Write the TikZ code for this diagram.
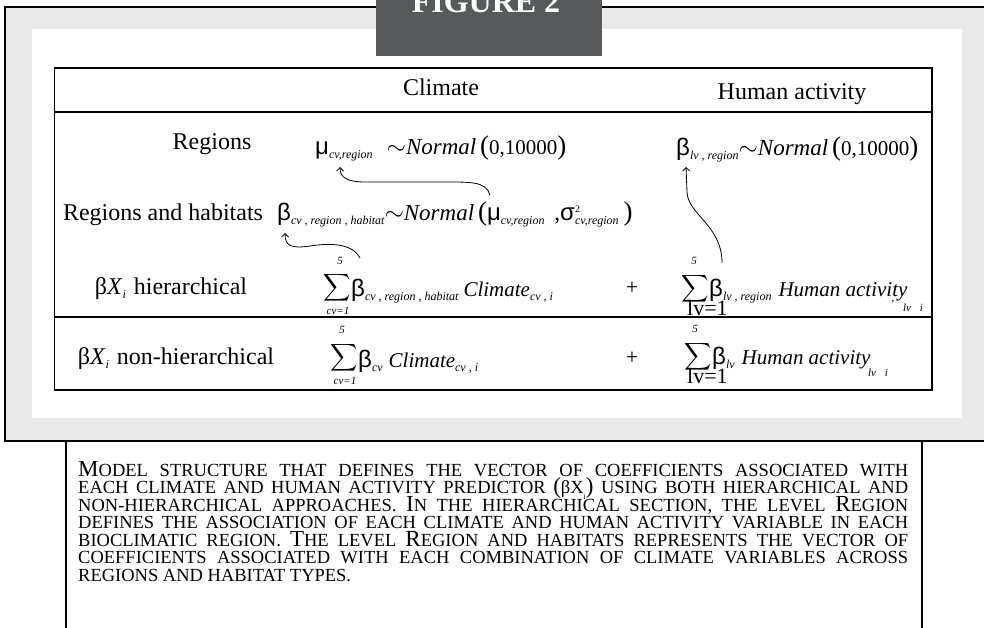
\documentclass[tikz,border=0pt]{standalone}
\usepackage{fontspec}
\setmainfont{Liberation Serif}
\newfontfamily\gkf{Liberation Sans}
\usetikzlibrary{arrows.meta}
\definecolor{bggray}{HTML}{E8E9E8}
\definecolor{figgray}{HTML}{58595B}
\newcommand\G[1]{{\fontsize{24}{24}\gkf #1}}
\newcommand\Sb[1]{\raisebox{-4pt}{\fontsize{12}{12}\selectfont\itshape #1}}
\newcommand\Pl[1]{{\fontsize{27}{27}\selectfont #1}}
\newcommand\Nm[1]{{\fontsize{21}{21}\selectfont #1}}
\newcommand\Tl{$\sim$}
\newcommand\BC[1]{{\fontsize{23}{17.5}\selectfont #1}}
\newcommand\capfont{\fontsize{18.5}{17.5}\selectfont\lineskiplimit=-20pt\lineskip=0pt}
\begin{document}
\begin{tikzpicture}[x=1pt,y={(0pt,-1pt)},
  txt/.style={inner sep=0pt,font=\fontsize{24}{24}\selectfont},
  frm/.style={inner sep=0pt,font=\fontsize{23}{23}\selectfont,anchor=base west},
  sumsign/.style={inner sep=0pt,font=\normalsize},
  lim/.style={inner sep=0pt,font=\fontsize{11}{11}\selectfont\itshape},
  biglim/.style={inner sep=0pt,font=\fontsize{22}{22}\selectfont,anchor=base west},
  link/.style={line width=0.8pt,-{Straight Barb[length=3.5pt,width=7pt]}},
  rule/.style={line width=1.4pt}]
\useasboundingbox (0,0) rectangle (984,628);
% outer frame
\fill[bggray] (5,7) rectangle (995,441);
\draw[line width=2.5pt] (995,7) -- (5,7) -- (5,441) -- (995,441);
\fill[white] (32,29) rectangle (962,418);
% figure tab
\fill[figgray] (376,-5) rectangle (602,56);
\node[inner sep=0pt,anchor=base,text=white,font=\fontsize{32}{32}\selectfont\bfseries] (fig) at (486,13) {FIGURE 2};
% table
\draw[rule] (54.5,68) rectangle (932,390);
\draw[rule] (54.5,112) -- (932,112);
\draw[rule] (54.5,317) -- (932,317);
\node[txt,anchor=base] (hc) at (441,96) {Climate};
\node[txt,anchor=base] (hh) at (792,100) {Human activity};
% row labels
\node[txt,anchor=base] (lr) at (212,150) {Regions};
\node[txt,anchor=base] (lrh) at (163,221) {Regions and habitats};
\node[txt,anchor=base] (lh) at (171,294) {β\textit{X}\Sb{i}\hspace{8pt}hierarchical};
\node[txt,anchor=base] (ln) at (176,364) {β\textit{X}\Sb{i}\hspace{8pt}non-hierarchical};
% row 1
\node[frm] (fa) at (315,155) {\G{μ}\Sb{cv,region}\hspace{14pt}\Tl\textit{Normal}\,\Pl{(}\Nm{0,10000}\Pl{)}};
\node[frm] (fb) at (676,156) {\G{β}\Sb{lv , region}\Tl\textit{Normal}\,\Pl{(}\Nm{0,10000}\Pl{)}};
% row 2
\node[frm] (fc) at (277,221) {\G{β}\Sb{cv , region , habitat}\Tl\textit{Normal}\,\Pl{(}\G{μ}\Sb{cv,region}\hspace{10pt},\G{σ}\rlap{\raisebox{8pt}{\fontsize{10}{10}\selectfont 2}}\Sb{cv,region}\hspace{5pt}\Pl{)}};
% row 3
\node[sumsign] (s1) at (337,288) {\scalebox{1.9}{$\displaystyle\sum$}};
\node[lim] (s1t) at (340,261) {5};
\node[lim] (s1b) at (338,311) {cv=1};
\node[frm,font=\fontsize{21}{21}\selectfont] (f3a) at (351,296) {\G{β}\Sb{cv , region , habitat}\hspace{5pt}\textit{Climate}\Sb{cv , i}};
\node[txt,anchor=center,font=\fontsize{22}{22}\selectfont] (p3) at (632,288) {+};
\node[sumsign] (s2) at (695,289) {\scalebox{1.9}{$\displaystyle\sum$}};
\node[lim] (s2t) at (694,261) {5};
\node[biglim] (s2b) at (687,315) {lv=1};
\node[frm,font=\fontsize{21}{21}\selectfont] (f3b) at (709,296) {\G{β}\Sb{lv , region}\hspace{7pt}\textit{Human activity}};
\node[lim] (f3c) at (893,302) {,};
\node[lim] (f3d) at (913,308) {lv\hspace{9pt}i};
% row 4
\node[sumsign] (s3) at (344,358) {\scalebox{1.9}{$\displaystyle\sum$}};
\node[lim] (s3t) at (342,330) {5};
\node[lim] (s3b) at (345,381) {cv=1};
\node[frm,font=\fontsize{21}{21}\selectfont] (f4a) at (358,367) {\G{β}\Sb{cv}\hspace{6pt}\textit{Climate}\Sb{cv , i}};
\node[txt,anchor=center,font=\fontsize{22}{22}\selectfont] (p4) at (632,358) {+};
\node[sumsign] (s4) at (698,357) {\scalebox{1.9}{$\displaystyle\sum$}};
\node[lim] (s4t) at (695,329) {5};
\node[biglim] (s4b) at (687,383) {lv=1};
\node[frm,font=\fontsize{21}{21}\selectfont] (f4b) at (712,364) {\G{β}\Sb{lv}\hspace{7pt}\textit{Human activity}};
\node[lim] (f4c) at (878,373) {lv\hspace{9pt}i};
% arrows
\coordinate (a1s) at (490,195);
\coordinate (a1e) at (340,167);
\coordinate (a2s) at (360,258);
\coordinate (a2e) at (285,233);
\coordinate (a3s) at (722,263);
\coordinate (a3e) at (686,167);
\draw[link] (a1s) .. controls (486,181) and (470,182) .. (440,182) -- (365,182) .. controls (348,182) and (340,178) .. (a1e);
\draw[link] (a2s) .. controls (352,243) and (330,243) .. (310,246) .. controls (290,249) and (285,245) .. (a2e);
\draw[link] (a3s) .. controls (722,225) and (688,215) .. (687,192) -- (a3e);
% caption box
\draw[line width=2pt] (66,441) -- (66,640);
\draw[line width=2pt] (922,441) -- (922,640);
\node[inner sep=0pt,anchor=base west,text width=830pt,align=justify,font=\capfont] (cap) at (78,476) {\BC{M}ODEL STRUCTURE THAT DEFINES THE VECTOR OF COEFFICIENTS ASSOCIATED WITH\linebreak
EACH CLIMATE AND HUMAN ACTIVITY PREDICTOR \BC{(}βX\raisebox{-6pt}{\fontsize{8}{8}\selectfont i}\BC{)} USING BOTH HIERARCHICAL AND\linebreak
NON-HIERARCHICAL APPROACHES. \BC{I}N THE HIERARCHICAL SECTION, THE LEVEL \BC{R}EGION\linebreak
DEFINES THE ASSOCIATION OF EACH CLIMATE AND HUMAN ACTIVITY VARIABLE IN EACH\linebreak
BIOCLIMATIC REGION. \BC{T}HE LEVEL \BC{R}EGION AND HABITATS REPRESENTS THE VECTOR OF\linebreak
COEFFICIENTS ASSOCIATED WITH EACH COMBINATION OF CLIMATE VARIABLES ACROSS\linebreak
REGIONS AND HABITAT TYPES.};
\end{tikzpicture}
\end{document}
